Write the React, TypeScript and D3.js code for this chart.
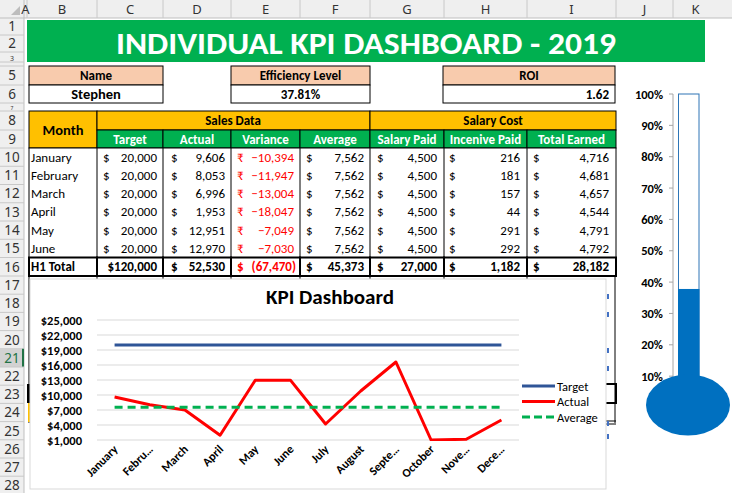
import React from "react";
import * as d3 from "d3";

const FONT = "Carlito, Lato, 'Noto Sans', sans-serif";

// ---------- data ----------
const tableMonths = ["January", "February", "March", "April", "May", "June"];
const targetVals = [20000, 20000, 20000, 20000, 20000, 20000];
const actualVals = [9606, 8053, 6996, 1953, 12951, 12970];
const varianceVals = [-10394, -11947, -13004, -18047, -7049, -7030];
const averageVals = [7562, 7562, 7562, 7562, 7562, 7562];
const salaryPaid = [4500, 4500, 4500, 4500, 4500, 4500];
const incentivePaid = [216, 181, 157, 44, 291, 292];
const totalEarned = [4716, 4681, 4657, 4544, 4791, 4792];
const totalsRow = ["$120,000", "52,530", "(67,470)", "45,373", "27,000", "1,182", "28,182"];

const chartMonths = ["January", "Febru…", "March", "April", "May", "June", "July", "August", "Septe…", "October", "Nove…", "Dece…"];
const chartTarget = [20000, 20000, 20000, 20000, 20000, 20000, 20000, 20000, 20000, 20000, 20000, 20000];
const chartActual = [9606, 8053, 6996, 1953, 12951, 12970, 4200, 10800, 16600, 1000, 1150, 5000];
const chartAverage = [7562, 7562, 7562, 7562, 7562, 7562, 7562, 7562, 7562, 7562, 7562, 7562];
const yTicks = [1000, 4000, 7000, 10000, 13000, 16000, 19000, 22000, 25000];
const legendItems = ["Target", "Actual", "Average"];

const thermoTicks = [0.1, 0.2, 0.3, 0.4, 0.5, 0.6, 0.7, 0.8, 0.9, 1.0];
const efficiency = 0.3781;
const roi = 1.62;
const personName = "Stephen";
const colLetters = ["A", "B", "C", "D", "E", "F", "G", "H", "I", "J", "K"];

// ---------- layout ----------
const colX = [24, 27, 97, 163, 231, 300, 370, 444, 527, 616, 673, 745];
const rowsDef: [number, number, number][] = (() => {
  const r: [number, number, number][] = [];
  r.push([1, 18, 35]);
  r.push([2, 35, 52]);
  r.push([3, 52, 62]);
  r.push([4, 62, 66]);
  r.push([5, 66, 85]);
  r.push([6, 85, 103]);
  r.push([7, 103, 111]);
  r.push([8, 111, 130]);
  r.push([9, 130, 148]);
  for (let i = 10; i <= 15; i++) r.push([i, 148 + 18.25 * (i - 10), 148 + 18.25 * (i - 9)]);
  r.push([16, 257.5, 276]);
  for (let i = 17; i <= 28; i++) r.push([i, 276 + 18.2 * (i - 17), 276 + 18.2 * (i - 16)]);
  return r;
})();
const rowTop = (n: number) => rowsDef.find((d) => d[0] === n)![1];
const rowBot = (n: number) => rowsDef.find((d) => d[0] === n)![2];
const rowMid = (n: number) => (rowTop(n) + rowBot(n)) / 2;

const fmt = d3.format(",");

export default function App() {
  const W = 732, H = 493;

  // chart scales
  const x = d3.scalePoint<string>().domain(chartMonths).range([97, 519]).padding(0.5);
  const y = d3.scaleLinear().domain([1000, 25000]).range([440, 320]);
  const line = d3
    .line<number>()
    .x((_, i) => x(chartMonths[i])!)
    .y((d) => y(d));

  // thermometer scale
  const ty = d3.scaleLinear().domain([0, 1]).range([407.5, 94]);

  const dataCols = [
    { l: 103, r: 157, sym: "$", vals: targetVals, red: false },
    { l: 171, r: 225, sym: "$", vals: actualVals, red: false },
    { l: 237, r: 294, sym: "₹", vals: varianceVals, red: true },
    { l: 306, r: 364, sym: "$", vals: averageVals, red: false },
    { l: 377, r: 437, sym: "$", vals: salaryPaid, red: false },
    { l: 449, r: 520, sym: "$", vals: incentivePaid, red: false },
    { l: 533, r: 609, sym: "$", vals: totalEarned, red: false },
  ];

  const subHeaders = ["Target", "Actual", "Variance", "Average", "Salary Paid", "Incenive Paid", "Total Earned"];

  return (
    <svg
      width={W}
      height={H}
      style={{ position: "absolute", left: 0, top: 0, background: "#fff" }}
      fontFamily={FONT}
    >
      <defs>
        <clipPath id="plotClip">
          <rect x={97} y={300} width={440} height={141} />
        </clipPath>
      </defs>

      {/* ---------- headers ---------- */}
      <rect x={0} y={0} width={W} height={18} fill="#EFEFEF" />
      <rect x={0} y={0} width={24} height={H} fill="#EFEFEF" />
      <line x1={0} y1={18} x2={W} y2={18} stroke="#BFBFBF" />
      <line x1={24} y1={0} x2={24} y2={H} stroke="#BFBFBF" />
      <polygon points="20,6 20,15 11,15" fill="#BDBDBD" />
      {colLetters.map((c, i) => (
        <g key={c}>
          <line x1={colX[i + 1]} y1={0} x2={colX[i + 1]} y2={18} stroke="#C8C8C8" />
          <text
            x={(colX[i] + Math.min(colX[i + 1], W)) / 2 + (c === "K" ? -7 : 0)}
            y={14}
            fontSize={13}
            fill="#333"
            textAnchor="middle"
            fontFamily="'Noto Sans', sans-serif"
          >
            {c}
          </text>
        </g>
      ))}
      {rowsDef.map(([n, t, b]) => {
        const h = b - t;
        const fs = h >= 16 ? 13.5 : h - 3;
        return (
          <g key={n}>
            {n === 21 && <rect x={0} y={t} width={24} height={h} fill="#D2D2D2" />}
            {n === 21 && <rect x={22} y={t} width={2} height={h} fill="#217346" />}
            <line x1={0} y1={b} x2={24} y2={b} stroke="#C8C8C8" />
            {n !== 4 && (
              <text
                x={12}
                y={(t + b) / 2 + fs * 0.36 + (h < 16 ? 1 : 0)}
                fontSize={fs}
                fill={n === 21 ? "#217346" : "#333"}
                textAnchor="middle"
                fontFamily="'Noto Sans', sans-serif"
              >
                {n}
              </text>
            )}
          </g>
        );
      })}

      {/* ---------- banner ---------- */}
      <rect x={27} y={20} width={678} height={42} fill="#00B050" />
      <text
        x={366}
        y={54}
        fontSize={31}
        fontWeight="bold"
        fill="#fff"
        textAnchor="middle"
        textLength={500}
        lengthAdjust="spacingAndGlyphs"
      >
        INDIVIDUAL KPI DASHBOARD - 2019
      </text>

      {/* ---------- info boxes ---------- */}
      {[
        { x0: 29, x1: 163, head: "Name", val: personName, anchor: "middle", big: true },
        { x0: 231, x1: 370, head: "Efficiency Level", val: d3.format(".2%")(efficiency), anchor: "middle", big: false },
        { x0: 443, x1: 615, head: "ROI", val: d3.format(".2f")(roi), anchor: "end", big: false },
      ].map((b) => (
        <g key={b.head}>
          <rect x={b.x0} y={rowTop(5)} width={b.x1 - b.x0} height={rowBot(5) - rowTop(5)} fill="#F8CBAD" stroke="#000" />
          <rect x={b.x0} y={rowTop(6)} width={b.x1 - b.x0} height={rowBot(6) - rowTop(6)} fill="#fff" stroke="#000" />
          <text x={(b.x0 + b.x1) / 2} y={rowMid(5) + 4.5} fontSize={13} fontWeight="bold" textAnchor="middle" fill="#000">
            {b.head}
          </text>
          <text
            x={b.anchor === "end" ? b.x1 - 6 : (b.x0 + b.x1) / 2}
            y={rowMid(6) + 5}
            fontSize={b.big ? 14.5 : 13}
            fontWeight="bold"
            textAnchor={b.anchor as any}
            fill="#000"
          >
            {b.val}
          </text>
        </g>
      ))}

      {/* ---------- hidden table remnants behind chart ---------- */}
      {[29, 97, 163, 231, 300, 370, 444, 527, 615].map((cx) => (
        <line key={cx} x1={cx} y1={276} x2={cx} y2={423} stroke="#000" strokeWidth={1} />
      ))}
      <rect x={27} y={384} width={3} height={19} fill="#000" />
      <rect x={28} y={403} width={2} height={19} fill="#FFC000" />
      <rect x={604} y={384} width={12} height={19} fill="none" stroke="#000" strokeWidth={2} />
      <line x1={600} y1={421} x2={616} y2={421} stroke="#000" />
      <line x1={600} y1={424} x2={616} y2={424} stroke="#000" />
      {[294, 312, 348, 366, 421, 434].map((yy) => (
        <rect key={yy} x={607} y={yy} width={2} height={5} fill="#4472C4" />
      ))}

      {/* ---------- main table ---------- */}
      <rect x={29} y={rowTop(8)} width={68} height={rowBot(9) - rowTop(8)} fill="#FFC000" stroke="#000" />
      <text x={63} y={(rowTop(8) + rowBot(9)) / 2 + 5} fontSize={14.5} fontWeight="bold" textAnchor="middle" fill="#000">
        Month
      </text>
      <rect x={97} y={rowTop(8)} width={273} height={rowBot(8) - rowTop(8)} fill="#FFC000" stroke="#000" />
      <text x={233} y={rowMid(8) + 4.5} fontSize={13} fontWeight="bold" textAnchor="middle" fill="#000">
        Sales Data
      </text>
      <rect x={370} y={rowTop(8)} width={246} height={rowBot(8) - rowTop(8)} fill="#FFC000" stroke="#000" />
      <text x={493} y={rowMid(8) + 4.5} fontSize={13} fontWeight="bold" textAnchor="middle" fill="#000">
        Salary Cost
      </text>
      {subHeaders.map((h, i) => {
        const x0 = colX[i + 2], x1 = colX[i + 3];
        return (
          <g key={h}>
            <rect x={x0} y={rowTop(9)} width={x1 - x0} height={rowBot(9) - rowTop(9)} fill="#00B050" stroke="#000" />
            <text x={(x0 + x1) / 2} y={rowMid(9) + 4.5} fontSize={13} fontWeight="bold" textAnchor="middle" fill="#fff">
              {h}
            </text>
          </g>
        );
      })}
      {/* data rows */}
      <rect x={29} y={rowTop(10)} width={587} height={rowBot(15) - rowTop(10)} fill="#fff" stroke="#000" />
      {[97, 163, 231, 300, 370, 444, 527].map((cx) => (
        <line key={cx} x1={cx} y1={rowTop(10)} x2={cx} y2={rowBot(15)} stroke="#000" />
      ))}
      {tableMonths.map((m, i) => {
        const ym = rowMid(10 + i) + 4.5;
        return (
          <g key={m}>
            <text x={31} y={ym} fontSize={13} fill="#000">
              {m}
            </text>
            {dataCols.map((c, j) => (
              <g key={j} fill={c.red ? "#FF0000" : "#000"}>
                <text x={c.l} y={ym} fontSize={13}>
                  {c.sym}
                </text>
                <text x={c.r} y={ym} fontSize={13} textAnchor="end">
                  {fmt(c.vals[i])}
                </text>
              </g>
            ))}
          </g>
        );
      })}
      {/* totals */}
      {[29, 97, 163, 231, 300, 370, 444, 527].map((x0, i, arr) => {
        const x1 = i < arr.length - 1 ? arr[i + 1] : 616;
        return (
          <rect key={x0} x={x0} y={rowTop(16)} width={x1 - x0} height={rowBot(16) - rowTop(16)} fill="#fff" stroke="#000" strokeWidth={2} />
        );
      })}
      <text x={31} y={rowMid(16) + 4.5} fontSize={13} fontWeight="bold" fill="#000">
        H1 Total
      </text>
      {dataCols.map((c, j) => (
        <g key={j} fill={c.red ? "#FF0000" : "#000"} fontWeight="bold">
          {j !== 0 && (
            <text x={c.l} y={rowMid(16) + 4.5} fontSize={13}>
              $
            </text>
          )}
          <text x={c.r + (c.red ? 2 : 0)} y={rowMid(16) + 4.5} fontSize={13} textAnchor="end">
            {totalsRow[j]}
          </text>
        </g>
      ))}

      {/* ---------- KPI line chart ---------- */}
      <rect x={30} y={279} width={576} height={210} fill="#fff" stroke="#D9D9D9" />
      <text x={330} y={304} fontSize={20} fontWeight="bold" textAnchor="middle" fill="#000" textLength={128} lengthAdjust="spacingAndGlyphs">
        KPI Dashboard
      </text>
      {yTicks.map((t) => (
        <g key={t}>
          <line x1={97} x2={519} y1={y(t)} y2={y(t)} stroke="#D9D9D9" />
          <text x={82} y={y(t) + 4.5} fontSize={12.5} fontWeight="bold" textAnchor="end" fill="#000">
            {"$" + fmt(t)}
          </text>
        </g>
      ))}
      {chartMonths.map((m) => (
        <text
          key={m}
          transform={`translate(${x(m)! + 4},${450}) rotate(-45)`}
          fontSize={12}
          fontWeight="bold"
          textAnchor="end"
          fill="#000"
        >
          {m}
        </text>
      ))}
      <g clipPath="url(#plotClip)" fill="none" strokeWidth={3}>
        <path d={line(chartTarget)!} stroke="#2F5597" />
        <path d={line(chartActual)!} stroke="#FF0000" strokeLinejoin="round" />
        <path d={line(chartAverage)!} stroke="#00B050" strokeDasharray="8,5" />
      </g>
      {legendItems.map((name, i) => {
        const ly = 386 + i * 15.5;
        const col = ["#2F5597", "#FF0000", "#00B050"][i];
        return (
          <g key={name}>
            <line x1={522} x2={555} y1={ly} y2={ly} stroke={col} strokeWidth={3} strokeDasharray={i === 2 ? "8,4" : undefined} />
            <text x={557} y={ly + 4.5} fontSize={12.5} fill="#000">
              {name}
            </text>
          </g>
        );
      })}

      {/* ---------- thermometer ---------- */}
      <line x1={673} x2={673} y1={ty(1)} y2={ty(0)} stroke="#A6A6A6" />
      {thermoTicks.map((t) => (
        <g key={t}>
          <line x1={669} x2={673} y1={ty(t)} y2={ty(t)} stroke="#A6A6A6" />
          <text x={663} y={ty(t) + 4.5} fontSize={12.5} fontWeight="bold" textAnchor="end" fill="#000">
            {d3.format(".0%")(t)}
          </text>
        </g>
      ))}
      <rect x={678.5} y={ty(1)} width={20.5} height={ty(0) - ty(1)} fill="#fff" stroke="#2E75B6" />
      <rect x={678} y={ty(efficiency)} width={21.5} height={ty(0) - ty(efficiency)} fill="#0070C0" />
      <ellipse cx={688} cy={405} rx={42} ry={30.5} fill="#0070C0" />
    </svg>
  );
}
